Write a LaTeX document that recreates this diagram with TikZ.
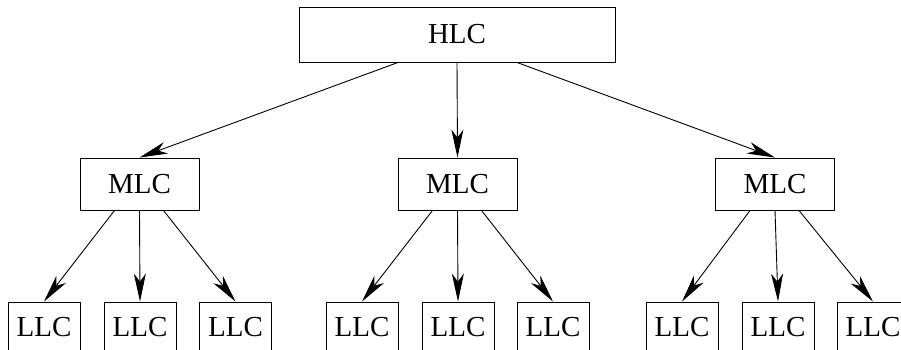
\documentclass[tikz,border=0pt]{standalone}
\usepackage{fontspec}
\setmainfont{Liberation Serif}
\usetikzlibrary{arrows.meta}
\begin{document}
\begin{tikzpicture}[x=1pt,y=-1pt,
  box/.style={draw=black,line width=0.9pt,inner sep=0pt,font=\fontsize{29}{30}\selectfont},
  hbox/.style={box,minimum width=316pt,minimum height=55pt},
  mbox/.style={box,minimum width=119pt,minimum height=52pt},
  lbox/.style={box,minimum width=72pt,minimum height=50pt},
  arr/.style={line width=0.9pt,-{Stealth[length=28pt,width=12pt,inset=8pt]}}]
\clip (0,0) rectangle (901,349);
\node[hbox] (h) at (457,34.5) {HLC};
\node[mbox] (m1) at (139.5,184) {MLC};
\node[mbox] (m2) at (457.5,184) {MLC};
\node[mbox] (m3) at (775,184) {MLC};
\node[lbox] (l1) at (44,327) {LLC};
\node[lbox] (l2) at (140,327) {LLC};
\node[lbox] (l3) at (235.5,327) {LLC};
\node[lbox] (l4) at (362,327) {LLC};
\node[lbox] (l5) at (458,327) {LLC};
\node[lbox] (l6) at (553,327) {LLC};
\node[lbox] (l7) at (682,327) {LLC};
\node[lbox] (l8) at (778,327) {LLC};
\node[lbox] (l9) at (873,327) {LLC};
\draw[arr] ([xshift=-59pt]h.south) -- (m1.north);
\draw[arr] (h.south) -- (m2.north);
\draw[arr] ([xshift=60pt]h.south) -- (m3.north);
\foreach \m/\a/\b/\c in {m1/l1/l2/l3,m2/l4/l5/l6,m3/l7/l8/l9}{
  \draw[arr] ([xshift=-25pt]\m.south) -- (\a.north);
  \draw[arr] (\m.south) -- (\b.north);
  \draw[arr] ([xshift=24pt]\m.south) -- (\c.north);
}
\end{tikzpicture}
\end{document}
